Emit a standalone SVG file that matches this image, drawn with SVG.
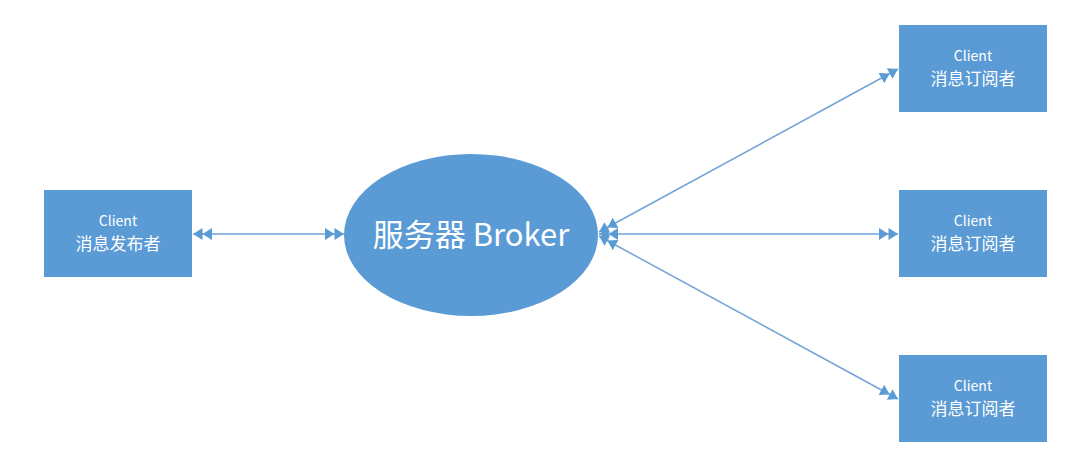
<svg xmlns="http://www.w3.org/2000/svg" width="1072" height="458" viewBox="0 0 1072 458">
<style>
.box{fill:#5b9bd5}
.t{font-family:"Noto Sans CJK SC","Noto Sans",sans-serif;fill:#fff;text-anchor:middle}
.c{stroke:#6fa3d8;stroke-width:1.5;fill:none;marker-start:url(#dbl);marker-end:url(#dbl)}
</style>
<defs>
<marker id="dbl" viewBox="0 0 16 10" refX="16" refY="5" markerWidth="19" markerHeight="12" markerUnits="userSpaceOnUse" orient="auto-start-reverse">
<path d="M0,0 L8,5 L0,10 Z M8,0 L16,5 L8,10 Z" fill="#5b9bd5"/>
</marker>
</defs>
<rect width="1072" height="458" fill="#fff"/>
<g id="connectors">
<line class="c" x1="193" y1="234" x2="344" y2="234"/>
<line class="c" x1="599" y1="234" x2="898" y2="234"/>
<line class="c" x1="599" y1="232" x2="898" y2="69"/>
<line class="c" x1="599" y1="236" x2="898" y2="399"/>
</g>
<g id="publisher"><rect class="box" x="44" y="190" width="148" height="87"/>
<text class="t" x="118" y="226" font-size="14">Client</text><text class="t" x="118" y="250" font-size="17">消息发布者</text></g>
<g id="broker"><ellipse class="box" cx="471" cy="235" rx="127" ry="81"/>
<text class="t" x="471" y="246" font-size="31">服务器 Broker</text></g>
<g id="sub1"><rect class="box" x="899" y="25" width="148" height="87"/>
<text class="t" x="973" y="61" font-size="14">Client</text><text class="t" x="973" y="85" font-size="17">消息订阅者</text></g>
<g id="sub2"><rect class="box" x="899" y="190" width="148" height="87"/>
<text class="t" x="973" y="226" font-size="14">Client</text><text class="t" x="973" y="250" font-size="17">消息订阅者</text></g>
<g id="sub3"><rect class="box" x="899" y="355" width="148" height="87"/>
<text class="t" x="973" y="391" font-size="14">Client</text><text class="t" x="973" y="415" font-size="17">消息订阅者</text></g>
</svg>
